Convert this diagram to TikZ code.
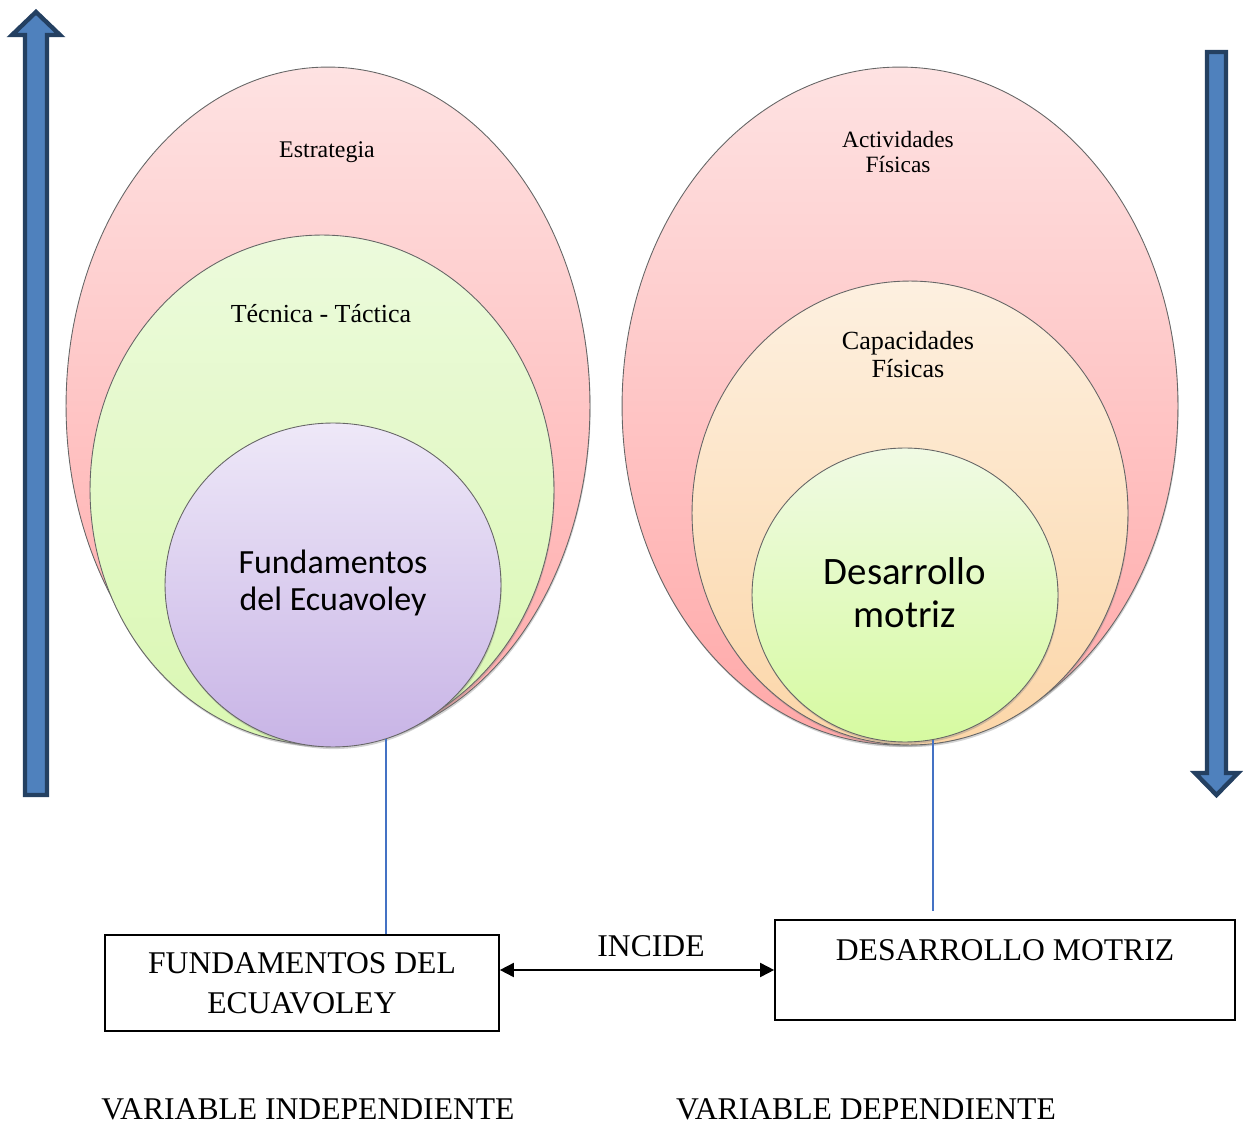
\documentclass[tikz,border=0pt]{standalone}
\usepackage{fontspec}
\setmainfont{Liberation Serif}
\newfontfamily\calibri{Carlito}
\usepackage{xcolor}
\definecolor{pinktop}{RGB}{254,226,226}
\definecolor{pinkbot}{RGB}{255,168,168}
\definecolor{greentop}{RGB}{236,250,220}
\definecolor{greenbot}{RGB}{218,248,178}
\definecolor{lilatop}{RGB}{238,232,248}
\definecolor{lilabot}{RGB}{200,180,230}
\definecolor{peachtop}{RGB}{253,240,224}
\definecolor{peachbot}{RGB}{252,214,168}
\definecolor{limetop}{RGB}{240,250,228}
\definecolor{limebot}{RGB}{214,250,160}
\definecolor{arrowfill}{RGB}{79,129,189}
\definecolor{arrowline}{RGB}{36,64,97}
\definecolor{linkblue}{RGB}{68,114,196}
\usetikzlibrary{
    shapes.geometric,
    arrows.meta,
    positioning,
    shadows
}

\begin{document}
\begin{tikzpicture}[
        x=0.02cm, y=-0.02cm,
        ring/.style={ellipse, draw=black!60, line width=0.5pt, inner sep=0pt, shade, top color=#1top, bottom color=#1bot,
            drop shadow={shadow xshift=0.4pt, shadow yshift=-1.2pt, opacity=0.35}},
        lbl/.style={align=center, inner sep=0pt, font=#1},
        varbox/.style={rectangle, draw=black, line width=1pt, align=center, font=\fontsize{18}{23}\selectfont},
        bigarrow/.style={draw=arrowline, fill=arrowfill, line width=2.5pt},
        link/.style={draw=linkblue, line width=0.9pt},
        arrow/.style={{Triangle[length=8pt,width=8pt]}-{Triangle[length=8pt,width=8pt]}, line width=1pt}
    ]
        \useasboundingbox (0,0) rectangle (1251,1124);

        % left: independent variable
        \node[ring=pink, minimum width=10.48cm, minimum height=13.56cm] (estrategia) at (328,406) {};
        \node[ring=green, minimum width=9.28cm, minimum height=10.2cm] (tecnica) at (322,490) {};
        \node[ring=lila, minimum width=6.72cm, minimum height=6.48cm] (fund) at (333,585) {};

        \node[lbl=\fontsize{13.6}{16}\selectfont] (estrategiaT) at (327,152) {Estrategia};
        \node[lbl=\fontsize{14.8}{17}\selectfont] (tecnicaT) at (321,314) {Técnica - Táctica};
        \node[lbl=\calibri\fontsize{19.3}{21}\selectfont] (fundT) at (333,583) {Fundamentos\\del Ecuavoley};

        % right: dependent variable
        \node[ring=pink, minimum width=11.12cm, minimum height=13.56cm] (actividades) at (900,406) {};
        \node[ring=peach, minimum width=8.72cm, minimum height=9.28cm] (capacidades) at (910,513) {};
        \node[ring=lime, minimum width=6.12cm, minimum height=5.88cm] (motriz) at (905,595) {};

        \node[lbl=\fontsize{13.3}{14.2}\selectfont] (actividadesT) at (898,152) {Actividades\\Físicas};
        \node[lbl=\fontsize{14.9}{15.9}\selectfont] (capacidadesT) at (908,355) {Capacidades\\Físicas};
        \node[lbl=\calibri\fontsize{22.1}{24.4}\selectfont] (motrizT) at (905,593) {Desarrollo\\motriz};

        % side arrows
        \draw[bigarrow] (25,795) -- (25,35) -- (12,35) -- (36,12) -- (60,35) -- (47,35) -- (47,795) -- cycle;
        \draw[bigarrow] (1207,52) -- (1226,52) -- (1226,773) -- (1238,773) -- (1216.5,795) -- (1195,773) -- (1207,773) -- cycle;

        % boxes
        \node[varbox, minimum width=7.88cm, minimum height=1.92cm] (fbox) at (302,983) {FUNDAMENTOS DEL\\ECUAVOLEY};
        \node[varbox, minimum width=9.2cm, minimum height=2cm] (dbox) at (1005,970) {DESARROLLO MOTRIZ\\~};

        \node[lbl=\fontsize{18}{23}\selectfont] (indep) at (308,1109) {VARIABLE INDEPENDIENTE};
        \node[lbl=\fontsize{18}{23}\selectfont] (dep) at (866,1109) {VARIABLE DEPENDIENTE};

        \draw[link] (fund.-71.5) -- (fund.-71.5 |- fbox.north);
        \draw[link, shorten >=0.16cm] (motriz.-79) -- (motriz.-79 |- dbox.north);
        \draw[arrow] (fbox.east |- dbox.west) -- node[above=0.12cm, xshift=0.28cm, font=\fontsize{18}{23}\selectfont] (incide) {INCIDE} (dbox.west);
    \end{tikzpicture}
\end{document}
